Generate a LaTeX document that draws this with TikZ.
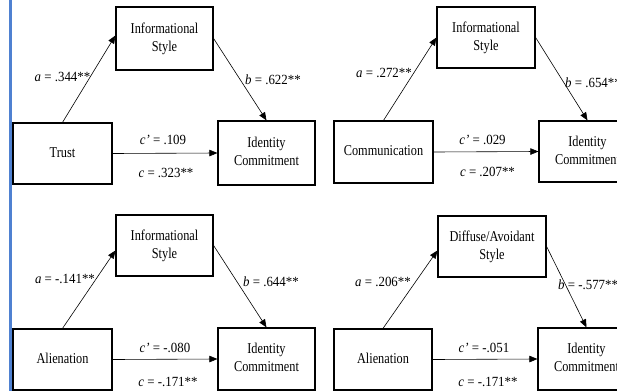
\documentclass[tikz,border=0pt]{standalone}
\usepackage{fontspec}
\usepackage{graphicx}
\setmainfont{Liberation Serif}
\usetikzlibrary{arrows.meta,calc}
\definecolor{blueline}{RGB}{79,129,209}
\newcommand{\bxt}[1]{\scalebox{0.82}[1]{\begin{tabular}{@{}c@{}}#1\end{tabular}}}
\newcommand{\lbt}[1]{\scalebox{0.92}[1]{#1}}
\begin{document}
\begin{tikzpicture}[x=1pt,y=-1pt,
  box/.style={draw,line width=1.2pt,align=center,inner sep=0pt,font=\fontsize{15}{18}\selectfont},
  lbl/.style={inner sep=0pt,font=\fontsize{14}{16}\selectfont},
  arr/.style={line width=0.6pt,-{Triangle[length=8pt,width=6.5pt]}}]
\useasboundingbox (0,0) rectangle (617,391);
\clip (0,0) rectangle (617,391);
\fill[white] (0,0) rectangle (617,391);
\draw[line width=3pt,blueline] (10.5,0) -- (10.5,391);

% Panel 1
\node[box,minimum width=97pt,minimum height=63pt] (i1) at (164.5,38.5) {\bxt{Informational\\Style}};
\node[box,minimum width=99pt,minimum height=61pt] (t1) at (62.5,153.5) {\bxt{Trust}};
\node[box,minimum width=97pt,minimum height=64pt] (d1) at (266.5,153) {\bxt{Identity\\Commitment}};
\draw[arr] (t1.north) -- ($(i1.west)+(0,-3)$);
\draw[arr] (i1.east) -- (d1.north);
\draw[arr] (t1.east) -- (d1.west);
\node[lbl] (a1) at (62.5,77) {\lbt{\textit{a} = .344**}};
\node[lbl,anchor=west] (b1) at (245,80) {\lbt{\textit{b} = .622**}};
\node[lbl] (cp1) at (163,140) {\lbt{\textit{c'} = .109}};
\node[lbl] (c1) at (166,173) {\lbt{\textit{c} = .323**}};

% Panel 2
\node[box,minimum width=98pt,minimum height=61pt] (i2) at (486,37.5) {\bxt{Informational\\Style}};
\node[box,minimum width=99pt,minimum height=62pt] (t2) at (383.5,152) {\bxt{Communication}};
\node[box,minimum width=97pt,minimum height=61pt] (d2) at (587.5,151.5) {\bxt{Identity\\Commitment}};
\draw[arr] (t2.north) -- (i2.west);
\draw[arr] (i2.east) -- (d2.north);
\draw[arr] (t2.east) -- (d2.west);
\node[lbl] (a2) at (384,73) {\lbt{\textit{a} = .272**}};
\node[lbl,anchor=west] (b2) at (565,83) {\lbt{\textit{b} = .654**}};
\node[lbl] (cp2) at (482.5,140) {\lbt{\textit{c'} = .029}};
\node[lbl] (c2) at (487.5,172) {\lbt{\textit{c} = .207**}};

% Panel 3
\node[box,minimum width=97pt,minimum height=61pt] (i3) at (164.5,245.5) {\bxt{Informational\\Style}};
\node[box,minimum width=99pt,minimum height=61pt] (t3) at (62.5,359.5) {\bxt{Alienation}};
\node[box,minimum width=97pt,minimum height=62pt] (d3) at (266.5,359) {\bxt{Identity\\Commitment}};
\draw[arr] (t3.north) -- ($(i3.west)+(0,5)$);
\draw[arr] (i3.east) -- (d3.north);
\draw[arr] (t3.east) -- (d3.west);
\node[lbl] (a3) at (65,279) {\lbt{\textit{a} = -.141**}};
\node[lbl,anchor=west] (b3) at (243,282) {\lbt{\textit{b} = .644**}};
\node[lbl] (cp3) at (165,348) {\lbt{\textit{c'} = -.080}};
\node[lbl] (c3) at (168,382) {\lbt{\textit{c} = -.171**}};

% Panel 4
\node[box,minimum width=108pt,minimum height=61pt] (i4) at (492,246.5) {\bxt{Diffuse/Avoidant\\Style}};
\node[box,minimum width=98pt,minimum height=61pt] (t4) at (383,359.5) {\bxt{Alienation}};
\node[box,minimum width=97pt,minimum height=62pt] (d4) at (586.5,359) {\bxt{Identity\\Commitment}};
\draw[arr] (t4.north) -- ($(i4.west)+(0,4)$);
\draw[arr] (i4.east) -- (d4.north);
\draw[arr] (t4.east) -- (d4.west);
\node[lbl] (a4) at (383,282) {\lbt{\textit{a} = .206**}};
\node[lbl,anchor=west] (b4) at (558,285) {\lbt{\textit{b} = -.577**}};
\node[lbl] (cp4) at (484,348) {\lbt{\textit{c'} = -.051}};
\node[lbl] (c4) at (488,382) {\lbt{\textit{c} = -.171**}};
\end{tikzpicture}
\end{document}
